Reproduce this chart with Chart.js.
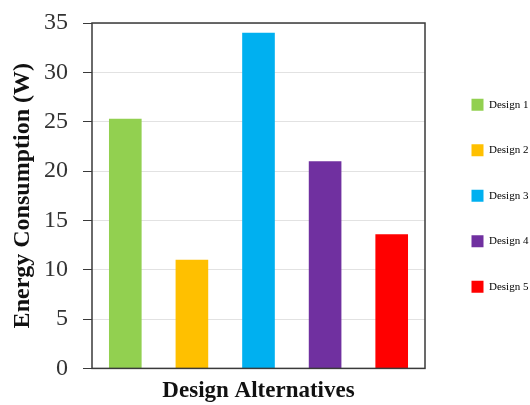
<!DOCTYPE html>
<html>
<head>
<meta charset="utf-8">
<script src="https://cdn.jsdelivr.net/npm/chart.js@4/dist/chart.umd.min.js"></script>
<style>
  body { margin: 0; background: #fff; overflow: hidden; }
</style>
</head>
<body>
<canvas id="energy-chart" width="530" height="405"></canvas>
<script>
// chart data
const categories = ['Design 1', 'Design 2', 'Design 3', 'Design 4', 'Design 5'];
const energyValues = [25.3, 11.0, 34.0, 21.0, 13.6];
const barColors = ['#92D050', '#FFC000', '#00B0F0', '#7030A0', '#FF0000'];
const yTickValues = [0, 5, 10, 15, 20, 25, 30, 35];

const serif = "'Liberation Serif', 'DejaVu Serif', serif";

// box around the plot area
const plotFrame = {
    id: 'plotFrame',
    afterDatasetsDraw: function(chart) {
        const a = chart.chartArea;
        const ctx = chart.ctx;
        ctx.save();
        ctx.strokeStyle = '#3a3a3a';
        ctx.lineWidth = 1.5;
        ctx.strokeRect(a.left, a.top, a.right - a.left, a.bottom - a.top);
        ctx.restore();
    }
};

// legend box runs to the right edge of the canvas
const legendWidth = {
    id: 'legendWidth',
    beforeLayout: function(chart) {
        const lg = chart.legend;
        if (lg && !lg._fixedFit) {
            const fit = lg.fit;
            lg.fit = function() {
                fit.call(this);
                this.width = 92;
            };
            lg._fixedFit = true;
        }
    }
};

window.onload = function() {
    var ctx = document.getElementById('energy-chart').getContext('2d');
    new Chart(ctx, {
        type: 'bar',
        data: {
            labels: categories,
            datasets: [{
                label: 'Energy Consumption (W)',
                data: energyValues,
                backgroundColor: barColors,
                borderWidth: 0,
                categoryPercentage: 1,
                barPercentage: 0.49
            }]
        },
        options: {
            responsive: false,
            animation: false,
            layout: { padding: { left: 8, top: 23, right: 0, bottom: 0 } },
            plugins: {
                tooltip: { enabled: false },
                legend: {
                    position: 'right',
                    fullSize: false,
                    labels: {
                        boxWidth: 12,
                        boxHeight: 12,
                        padding: 33.5,
                        color: '#222',
                        font: { family: serif, size: 11 },
                        generateLabels: function() {
                            return categories.map(function(name, i) {
                                return {
                                    text: name,
                                    fillStyle: barColors[i],
                                    strokeStyle: barColors[i],
                                    lineWidth: 0,
                                    hidden: false,
                                    index: i
                                };
                            });
                        }
                    }
                }
            },
            scales: {
                x: {
                    grid: { display: false, drawTicks: false },
                    border: { display: false },
                    ticks: { display: false },
                    title: {
                        display: true,
                        text: 'Design Alternatives',
                        color: '#111',
                        font: { family: serif, size: 23, weight: 'bold' },
                        padding: { top: 9, bottom: 0 }
                    }
                },
                y: {
                    min: 0,
                    max: 35,
                    afterBuildTicks: function(scale) {
                        scale.ticks = yTickValues.map(function(v) { return { value: v }; });
                    },
                    afterFit: function(scale) {
                        scale.width = 84;
                        scale.paddingTop = 12;
                        scale.paddingBottom = 12;
                    },
                    grid: {
                        color: '#e2e2e2',
                        tickColor: '#3a3a3a',
                        tickLength: 9,
                        lineWidth: 1
                    },
                    border: { display: false },
                    ticks: {
                        padding: 15,
                        color: '#333',
                        font: { family: serif, size: 24 }
                    },
                    title: {
                        display: true,
                        text: 'Energy Consumption (W)',
                        color: '#111',
                        font: { family: serif, size: 24, weight: 'bold' },
                        padding: { top: 0, bottom: 4 }
                    }
                },
                // empty right axis, only keeps the gap before the legend
                y2: {
                    position: 'right',
                    min: 0,
                    max: 35,
                    afterFit: function(scale) { scale.width = 13; },
                    grid: { drawOnChartArea: false, drawTicks: false },
                    border: { display: false },
                    ticks: { display: false }
                }
            }
        },
        plugins: [plotFrame, legendWidth]
    });
};
</script>
</body>
</html>
